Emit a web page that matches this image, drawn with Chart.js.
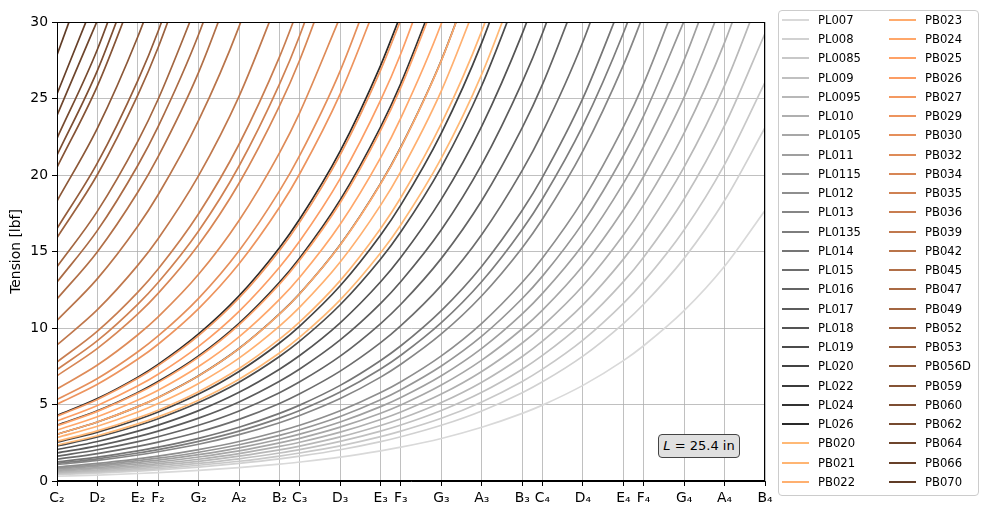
<!DOCTYPE html>
<html>
<head>
<meta charset="utf-8">
<script src="https://cdn.jsdelivr.net/npm/chart.js@4.4.1/dist/chart.umd.min.js"></script>
<style>
html,body{margin:0;padding:0;background:#fff;}
#wrap{position:relative;width:989px;height:515px;overflow:hidden;font-family:'DejaVu Sans',sans-serif;}
#chart{position:absolute;left:0;top:0;}
#legendBox{position:absolute;left:778px;top:10px;width:199px;height:484px;border:1px solid #cccccc;border-radius:4px;background:rgba(255,255,255,0.8);box-sizing:content-box;}
.li{position:absolute;height:20px;line-height:20px;font-size:11.6px;white-space:nowrap;color:#000;}
.li .sw{position:absolute;left:0;top:9px;width:27px;height:2px;}
.li .tx{position:absolute;left:36px;top:0;}
#note{position:absolute;left:658px;top:434px;width:80px;height:22px;line-height:22px;border:1px solid #444;border-radius:4px;background:#e0e0e0;font-size:13px;text-align:center;color:#000;}
</style>
</head>
<body>
<div id="wrap">
<canvas id="chart" width="989" height="515"></canvas>
<div id="legendBox"></div>
<div id="legendItems"></div>
<div id="note"><i>L</i> = 25.4 in</div>
</div>
<script>
// x-axis: natural notes (tick labels) and their semitone positions from C2
const noteLabels = ['C\u2082','D\u2082','E\u2082','F\u2082','G\u2082','A\u2082','B\u2082',
                    'C\u2083','D\u2083','E\u2083','F\u2083','G\u2083','A\u2083','B\u2083',
                    'C\u2084','D\u2084','E\u2084','F\u2084','G\u2084','A\u2084','B\u2084'];
const noteSemitones = [0,2,4,5,7,9,11,12,14,16,17,19,21,23,24,26,28,29,31,33,35];

// string names (legend order)
const stringNames = ['PL007','PL008','PL0085','PL009','PL0095','PL010','PL0105','PL011','PL0115','PL012',
  'PL013','PL0135','PL014','PL015','PL016','PL017','PL018','PL019','PL020','PL022','PL024','PL026',
  'PB020','PB021','PB022','PB023','PB024','PB025','PB026','PB027','PB029','PB030','PB032','PB034',
  'PB035','PB036','PB039','PB042','PB045','PB047','PB049','PB052','PB053','PB056D','PB059','PB060',
  'PB062','PB064','PB066','PB070'];

// tension [lbf] at each natural note
const PL007  = [0.31,0.39,0.49,0.55,0.70,0.88,1.10,1.24,1.56,1.97,2.21,2.78,3.51,4.42,4.96,6.25,7.87,8.84,11.13,14.03,17.68];
const PL008  = [0.41,0.51,0.64,0.72,0.91,1.15,1.44,1.62,2.04,2.57,2.89,3.64,4.58,5.77,6.48,8.16,10.29,11.55,14.55,18.33,23.09];
const PL0085 = [0.46,0.58,0.73,0.81,1.03,1.29,1.63,1.83,2.30,2.90,3.26,4.10,5.17,6.51,7.31,9.21,11.61,13.03,16.41,20.68,26.06];
const PL009  = [0.51,0.65,0.81,0.91,1.15,1.45,1.83,2.05,2.59,3.26,3.66,4.61,5.80,7.31,8.21,10.34,13.03,14.63,18.43,23.22,29.25];
const PL0095 = [0.57,0.72,0.91,1.02,1.28,1.62,2.03,2.28,2.88,3.63,4.07,5.13,6.46,8.14,9.14,11.51,14.50,16.28,20.51,25.84,32.56];
const PL010  = [0.63,0.80,1.00,1.13,1.42,1.79,2.26,2.53,3.19,4.02,4.51,5.68,7.16,9.02,10.13,12.76,16.08,18.05,22.74,28.65,36.09];
const PL0105 = [0.70,0.88,1.11,1.24,1.57,1.97,2.49,2.79,3.52,4.43,4.97,6.27,7.90,9.95,11.17,14.07,17.73,19.90,25.07,31.59];
const PL011  = [0.77,0.97,1.22,1.36,1.72,2.17,2.73,3.06,3.86,4.86,5.46,6.88,8.67,10.92,12.26,15.44,19.45,21.84,27.51,34.67];
const PL0115 = [0.84,1.05,1.33,1.49,1.88,2.37,2.98,3.35,4.22,5.31,5.97,7.52,9.47,11.93,13.39,16.87,21.26,23.86,30.06];
const PL012  = [0.91,1.15,1.45,1.62,2.05,2.58,3.25,3.64,4.59,5.78,6.49,8.18,10.31,12.99,14.58,18.36,23.14,25.97,32.72];
const PL013  = [1.07,1.35,1.70,1.91,2.40,3.03,3.81,4.28,5.39,6.79,7.63,9.61,12.11,15.25,17.12,21.57,27.18,30.50];
const PL0135 = [1.15,1.45,1.83,2.05,2.59,3.26,4.11,4.61,5.81,7.32,8.22,10.35,13.04,16.44,18.45,23.24,29.28,32.87];
const PL014  = [1.24,1.56,1.97,2.21,2.79,3.51,4.42,4.96,6.25,7.88,8.84,11.14,14.04,17.69,19.86,25.02,31.52];
const PL015  = [1.42,1.79,2.26,2.54,3.20,4.03,5.07,5.70,7.18,9.04,10.15,12.79,16.11,20.30,22.78,28.71,36.17];
const PL016  = [1.62,2.04,2.57,2.89,3.64,4.58,5.77,6.48,8.16,10.29,11.55,14.55,18.33,23.09,25.92,32.66];
const PL017  = [1.83,2.30,2.90,3.26,4.11,5.17,6.52,7.32,9.22,11.61,13.04,16.42,20.69,26.07,29.26,36.87];
const PL018  = [2.05,2.58,3.26,3.65,4.60,5.80,7.31,8.20,10.34,13.02,14.62,18.42,23.20,29.24,32.82];
const PL019  = [2.29,2.88,3.63,4.07,5.13,6.46,8.14,9.14,11.52,14.51,16.29,20.52,25.85,32.57];
const PL020  = [2.53,3.19,4.02,4.51,5.68,7.16,9.02,10.13,12.76,16.08,18.05,22.74,28.65,36.09];
const PL022  = [3.06,3.86,4.86,5.46,6.88,8.66,10.92,12.25,15.44,19.45,21.83,27.50,34.65];
const PL024  = [3.65,4.59,5.79,6.50,8.18,10.31,12.99,14.58,18.37,23.15,25.99,32.74];
const PL026  = [4.28,5.39,6.79,7.62,9.61,12.10,15.25,17.12,21.56,27.17,30.50];
const PB020  = [2.35,2.96,3.73,4.19,5.28,6.65,8.37,9.40,11.84,14.92,16.75,21.10,26.59,33.50];
const PB021  = [2.60,3.28,4.13,4.63,5.84,7.35,9.27,10.40,13.10,16.51,18.53,23.35,29.42,37.06];
const PB022  = [2.84,3.58,4.51,5.06,6.38,8.03,10.12,11.36,14.31,18.03,20.24,25.50,32.13];
const PB023  = [3.06,3.86,4.86,5.45,6.87,8.65,10.90,12.24,15.42,19.43,21.81,27.48,34.62];
const PB024  = [3.33,4.20,5.29,5.93,7.48,9.42,11.87,13.32,16.78,21.14,23.73,29.90,37.67];
const PB025  = [3.61,4.55,5.73,6.43,8.10,10.21,12.86,14.44,18.19,22.92,25.73,32.42];
const PB026  = [3.92,4.94,6.22,6.98,8.80,11.09,13.97,15.68,19.76,24.89,27.94,35.20];
const PB027  = [4.23,5.33,6.71,7.54,9.50,11.96,15.07,16.92,21.32,26.86,30.15];
const PB029  = [5.02,6.32,7.97,8.94,11.27,14.20,17.89,20.08,25.30,31.88];
const PB030  = [5.32,6.70,8.45,9.48,11.94,15.05,18.96,21.28,26.81,33.78];
const PB032  = [6.02,7.58,9.56,10.73,13.51,17.03,21.45,24.08,30.34];
const PB034  = [6.88,8.67,10.92,12.26,15.44,19.46,24.52,27.52,34.67];
const PB035  = [7.28,9.17,11.56,12.97,16.34,20.59,25.94,29.12,36.69];
const PB036  = [7.78,9.80,12.35,13.86,17.47,22.01,27.72,31.12];
const PB039  = [8.89,11.20,14.11,15.84,19.96,25.14,31.68];
const PB042  = [10.50,13.23,16.67,18.71,23.57,29.70,37.42];
const PB045  = [11.90,14.99,18.89,21.20,26.71,33.66];
const PB047  = [13.00,16.38,20.64,23.16,29.18,36.77];
const PB049  = [14.00,17.64,22.22,24.95,31.43];
const PB052  = [15.90,20.03,25.24,28.33,35.69];
const PB053  = [16.50,20.79,26.19,29.40,37.04];
const PB056D = [18.30,23.06,29.05,32.61];
const PB059  = [20.50,25.83,32.54];
const PB060  = [21.30,26.84,33.81];
const PB062  = [22.40,28.22,35.56];
const PB064  = [23.90,30.11];
const PB066  = [25.30,31.88];
const PB070  = [27.85,35.09];

const seriesValues = [PL007,PL008,PL0085,PL009,PL0095,PL010,PL0105,PL011,PL0115,PL012,PL013,PL0135,PL014,
  PL015,PL016,PL017,PL018,PL019,PL020,PL022,PL024,PL026,
  PB020,PB021,PB022,PB023,PB024,PB025,PB026,PB027,PB029,PB030,PB032,PB034,PB035,PB036,PB039,PB042,
  PB045,PB047,PB049,PB052,PB053,PB056D,PB059,PB060,PB062,PB064,PB066,PB070];

// ---- styling ----
const nPL = stringNames.filter(s => s.startsWith('PL')).length;
const nPB = stringNames.length - nPL;
function colorFor(i) {
  if (i < nPL) {
    const g = Math.round(217 - (217 - 42) * i / (nPL - 1));
    return `rgb(${g},${g},${g})`;
  }
  const j = i - nPL;
  const x = 0.93 - (0.93 - 0.30) * j / (nPB - 1);
  const r = Math.round(Math.min(1, 1.25 * x) * 255);
  const g = Math.round(0.7812 * x * 255);
  const b = Math.round(0.4975 * x * 255);
  return `rgb(${r},${g},${b})`;
}

const N = stringNames.length;
const datasets = stringNames.map((name, i) => ({
  label: name,
  data: seriesValues[i].map((y, k) => ({x: noteSemitones[k], y: y})),
  borderColor: colorFor(i),
  backgroundColor: colorFor(i),
  borderWidth: 1.7,
  pointRadius: 0,
  fill: false,
  cubicInterpolationMode: 'monotone',
  clip: 0,
  order: N - i
}));

const framePlugin = {
  id: 'frame',
  afterDatasetsDraw(chart) {
    const {ctx, chartArea: a} = chart;
    ctx.save();
    ctx.strokeStyle = '#000';
    ctx.lineWidth = 1;
    ctx.strokeRect(Math.round(a.left) + 0.5, Math.round(a.top) + 0.5,
                   Math.round(a.right - a.left) - 1, Math.round(a.bottom - a.top) - 1);
    ctx.restore();
  }
};

Chart.defaults.font.family = "'DejaVu Sans', sans-serif";
Chart.defaults.font.size = 13.9;
Chart.defaults.color = '#000';

new Chart(document.getElementById('chart'), {
  type: 'line',
  data: {datasets},
  options: {
    responsive: false,
    animation: false,
    events: [],
    devicePixelRatio: 1,
    layout: {padding: {left: 0, top: 22, right: 224, bottom: 0}},
    plugins: {legend: {display: false}, tooltip: {enabled: false}},
    scales: {
      x: {
        type: 'linear',
        min: 0, max: 35,
        afterBuildTicks: s => { s.ticks = noteSemitones.map(v => ({value: v})); },
        afterFit: s => { s.height = 34; },
        ticks: {
          autoSkip: false, maxRotation: 0, padding: 4,
          callback: v => noteLabels[noteSemitones.indexOf(v)]
        },
        grid: {color: '#b0b0b0', lineWidth: 0.8, tickColor: '#000', tickLength: 5, tickWidth: 1},
        border: {color: '#000', width: 1}
      },
      y: {
        type: 'linear',
        min: 0, max: 30,
        afterFit: s => { s.width = 57; },
        ticks: {stepSize: 5, padding: 4},
        grid: {color: '#b0b0b0', lineWidth: 0.8, tickColor: '#000', tickLength: 5, tickWidth: 1},
        border: {color: '#000', width: 1},
        title: {display: true, text: 'Tension [lbf]', padding: {top: 8, bottom: 0}, font: {size: 13.9}}
      }
    }
  },
  plugins: [framePlugin]
});

// ---- legend (HTML, two columns) ----
const legendItems = document.getElementById('legendItems');
const rows = Math.ceil(N / 2);
stringNames.forEach((name, i) => {
  const col = Math.floor(i / rows), row = i % rows;
  const el = document.createElement('div');
  el.className = 'li';
  el.style.left = (col === 0 ? 782 : 889) + 'px';
  el.style.top = Math.round(20 + row * 19.24 - 10) + 'px';
  const sw = document.createElement('span');
  sw.className = 'sw';
  sw.style.background = colorFor(i);
  const tx = document.createElement('span');
  tx.className = 'tx';
  tx.textContent = name;
  el.appendChild(sw); el.appendChild(tx);
  legendItems.appendChild(el);
});
</script>
</body>
</html>
